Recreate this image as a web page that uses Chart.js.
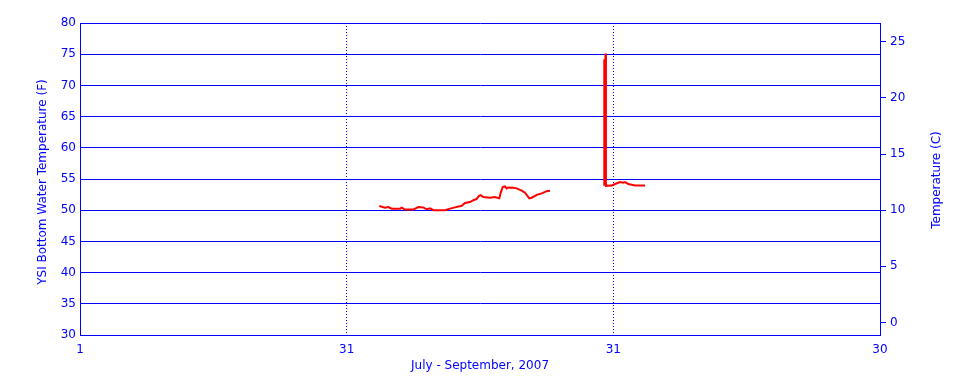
<!DOCTYPE html>
<html>
<head>
<meta charset="utf-8">
<script src="https://cdn.jsdelivr.net/npm/chart.js@4/dist/chart.umd.min.js"></script>
<style>
  html, body { margin: 0; padding: 0; background: #ffffff; }
  #wrap { width: 960px; height: 384px; }
</style>
</head>
<body>
<div id="wrap"><canvas id="c" width="960" height="384"></canvas></div>
<script>
// Day offset from July 1 (axis spans three equal month thirds: 0..90)
const days = [
  33.67, 34.31, 34.68, 35.07, 36.0, 36.19, 36.56, 37.5, 38.06, 38.62, 39.0, 39.38, 39.75,
  41.06, 41.63, 42.19, 42.94, 43.31, 43.88, 44.25, 44.63, 44.89, 45.08, 45.37, 46.13,
  46.69, 47.17, 47.36, 47.55, 47.81, 48.0, 48.18, 48.75, 49.13, 49.69, 50.06, 50.55,
  50.82, 51.38, 51.94, 52.5, 52.88,
  55.0,
  58.98, 58.98, 59.12, 59.17, 59.81, 60.19, 60.56, 60.75, 61.12, 61.31, 61.68, 62.44, 63.56
];
// Bottom water temperature (F); null = data gap
const tempF = [
  50.67, 50.4, 50.5, 50.25, 50.25, 50.4, 50.1, 50.1, 50.5, 50.45, 50.15, 50.3, 50.0,
  50.0, 50.25, 50.45, 50.7, 51.15, 51.3, 51.6, 51.8, 52.3, 52.4, 52.1, 52.0,
  52.1, 51.9, 52.95, 53.7, 53.8, 53.5, 53.65, 53.6, 53.5, 53.15, 52.8, 51.9,
  52.0, 52.45, 52.7, 53.05, 53.1,
  null,
  74.2, 53.9, 75.1, 53.9, 53.95, 54.2, 54.4, 54.5, 54.4, 54.5, 54.2, 53.95, 53.95
];
const xTickValues = [0, 30, 60, 90];
const xTickLabels = ['1', '31', '31', '30'];
const fTicks = [30, 35, 40, 45, 50, 55, 60, 65, 70, 75, 80];
const cTicks = [0, 5, 10, 15, 20, 25];
const xTitle = 'July - September, 2007';
const leftTitle = 'YSI Bottom Water Temperature (F)';
const rightTitle = 'Temperature (C)';

const BLUE = '#0000ff';
const FONT = 'DejaVu Sans';
const fToC = f => (f - 32) * 5 / 9;

const titlesPlugin = {
  id: 'titles',
  afterDraw(chart) {
    const ctx = chart.ctx;
    const a = chart.chartArea;
    ctx.save();
    ctx.fillStyle = BLUE;
    ctx.font = '12px "' + FONT + '"';
    ctx.textAlign = 'center';
    ctx.textBaseline = 'middle';
    ctx.fillText(xTitle, (a.left + a.right) / 2, 366);
    ctx.save();
    ctx.translate(43, 182);
    ctx.rotate(-Math.PI / 2);
    ctx.fillText(leftTitle, 0, 0);
    ctx.restore();
    ctx.save();
    ctx.translate(937, 180);
    ctx.rotate(-Math.PI / 2);
    ctx.fillText(rightTitle, 0, 0);
    ctx.restore();
    ctx.restore();
  }
};

new Chart(document.getElementById('c'), {
  type: 'line',
  data: {
    datasets: [{
      data: days.map((d, i) => ({ x: d, y: tempF[i] })),
      borderColor: '#ff0000',
      borderWidth: 2,
      pointRadius: 0,
      tension: 0,
      spanGaps: false,
      yAxisID: 'y'
    }]
  },
  options: {
    responsive: false,
    animation: false,
    devicePixelRatio: 1,
    layout: { padding: { top: 23, left: 0, right: 0, bottom: 0 } },
    plugins: { legend: { display: false }, tooltip: { enabled: false } },
    scales: {
      x: {
        type: 'linear',
        min: 0, max: 90,
        afterBuildTicks: s => { s.ticks = xTickValues.map(v => ({ value: v })); },
        afterFit: s => { s.height = 49; },
        ticks: {
          color: BLUE, font: { family: FONT, size: 12 }, padding: 8, maxRotation: 0,
          autoSkip: false,
          callback: (v) => xTickLabels[xTickValues.indexOf(v)]
        },
        grid: {
          drawTicks: false,
          lineWidth: 1,
          color: c => (c.tick && (c.tick.value === 30 || c.tick.value === 60)) ? BLUE : 'rgba(0,0,0,0)'
        },
        border: { display: true, color: BLUE, width: 1, dash: [1, 2] }
      },
      y: {
        position: 'left',
        min: 30, max: 80,
        afterBuildTicks: s => { s.ticks = fTicks.map(v => ({ value: v })); },
        afterFit: s => { s.width = 80; },
        ticks: { color: BLUE, font: { family: FONT, size: 12 }, padding: 4 },
        grid: { color: BLUE, lineWidth: 1, drawTicks: false },
        border: { display: true, color: BLUE, width: 1 }
      },
      y2: {
        position: 'right',
        min: fToC(30), max: fToC(80),
        afterBuildTicks: s => { s.ticks = cTicks.map(v => ({ value: v })); },
        afterFit: s => { s.width = 80; },
        ticks: { color: BLUE, font: { family: FONT, size: 12 }, padding: 4 },
        grid: { drawOnChartArea: false, drawTicks: true, tickLength: 6, color: BLUE, lineWidth: 1 },
        border: { display: true, color: BLUE, width: 1 }
      }
    }
  },
  plugins: [titlesPlugin]
});
</script>
</body>
</html>
